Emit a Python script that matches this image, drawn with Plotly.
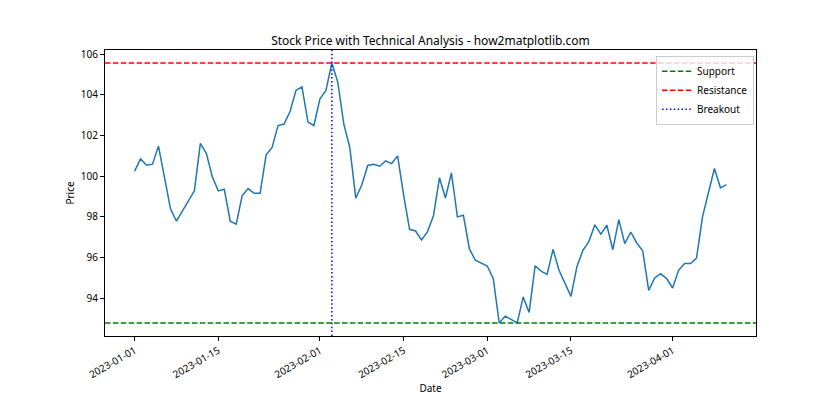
import datetime as dt
import plotly.graph_objects as go

start_date = "2023-01-01"
prices = [
    100.25, 100.85, 100.54, 100.59, 101.48, 99.97, 98.41, 97.79, 98.28, 98.79,
    99.28, 101.61, 101.12, 99.97, 99.28, 99.36, 97.79, 97.64, 99.05, 99.39,
    99.16, 99.16, 101.05, 101.41, 102.49, 102.56, 103.18, 104.22, 104.39, 102.66,
    102.49, 103.80, 104.20, 105.56, 104.61, 102.56, 101.41, 98.92, 99.57, 100.53,
    100.59, 100.49, 100.75, 100.62, 101.00, 99.08, 97.39, 97.31, 96.87, 97.28,
    98.06, 99.92, 98.93, 100.16, 98.00, 98.08, 96.44, 95.87, 95.74, 95.59,
    94.97, 92.79, 93.13, 92.95, 92.80, 94.06, 93.31, 95.60, 95.34, 95.18,
    96.41, 95.38, 94.75, 94.10, 95.57, 96.36, 96.80, 97.61, 97.15, 97.59,
    96.39, 97.87, 96.69, 97.26, 96.72, 96.33, 94.39, 95.00, 95.21, 94.97,
    94.51, 95.38, 95.71, 95.71, 95.98, 98.00, 99.20, 100.38, 99.43, 99.59,
]
tick_labels = ["2023-01-01", "2023-01-15", "2023-02-01", "2023-02-15",
               "2023-03-01", "2023-03-15", "2023-04-01"]
title_text = "Stock Price with Technical Analysis - how2matplotlib.com"

d0 = dt.datetime.fromisoformat(start_date)
dates = [d0 + dt.timedelta(days=i) for i in range(len(prices))]

support = min(prices)
resistance = max(prices)
breakout_date = dates[prices.index(resistance)]

# matplotlib-like 5% margins
span_days = (dates[-1] - dates[0]).days
pad = dt.timedelta(days=span_days * 0.05)
x_range = [dates[0] - pad, dates[-1] + pad]
yspan = resistance - support
y_range = [support - 0.05 * yspan, resistance + 0.05 * yspan]

FONT = "Noto Sans"
DASH = "5.5px,2.4px"
DOT = "1.5px,2.4px"

fig = go.Figure()
fig.add_trace(go.Scatter(x=dates, y=prices, mode="lines",
                         line=dict(color="#1f77b4", width=1.5),
                         showlegend=False, hoverinfo="skip"))

fig.add_shape(type="line", xref="paper", x0=0, x1=1, yref="y", y0=support, y1=support,
              line=dict(color="green", width=1.5, dash=DASH),
              name="Support", showlegend=True)
fig.add_shape(type="line", xref="paper", x0=0, x1=1, yref="y", y0=resistance, y1=resistance,
              line=dict(color="red", width=1.5, dash=DASH),
              name="Resistance", showlegend=True)
fig.add_shape(type="line", yref="paper", y0=0, y1=1, xref="x", x0=breakout_date, x1=breakout_date,
              line=dict(color="blue", width=1.5, dash=DOT),
              name="Breakout", showlegend=True)

fig.update_layout(
    width=840, height=420,
    margin=dict(l=97, r=92, t=42, b=92, autoexpand=False),
    paper_bgcolor="white", plot_bgcolor="white",
    font=dict(family=FONT, size=10, color="black"),
    title=dict(text=title_text, x=0.5, xref="paper", xanchor="center",
               y=1, yref="paper", yanchor="bottom", pad=dict(b=5),
               font=dict(family=FONT, size=12, color="black")),
    legend=dict(x=0.997, y=0.98, xanchor="right", yanchor="top",
                bgcolor="rgba(255,255,255,0.8)", bordercolor="#cccccc", borderwidth=1,
                font=dict(family=FONT, size=10), tracegroupgap=0,
                itemwidth=30),
    showlegend=True,
)
fig.update_xaxes(
    range=x_range, type="date", automargin=False,
    tickvals=[dt.datetime.fromisoformat(t) for t in tick_labels], ticktext=tick_labels,
    tickangle=-30, ticks="outside", ticklen=4, tickcolor="black", tickwidth=1,
    showline=True, linecolor="black", linewidth=1, mirror=True,
    showgrid=False, zeroline=False,
    title=dict(text="Date", font=dict(family=FONT, size=10), standoff=4),
    tickfont=dict(family=FONT, size=10),
)
fig.update_yaxes(
    range=y_range, dtick=2, tick0=0, automargin=False,
    ticks="outside", ticklen=4, tickcolor="black", tickwidth=1,
    showline=True, linecolor="black", linewidth=1, mirror=True,
    showgrid=False, zeroline=False,
    title=dict(text="Price", font=dict(family=FONT, size=10), standoff=4),
    tickfont=dict(family=FONT, size=10),
)

fig.write_html("out.html")
